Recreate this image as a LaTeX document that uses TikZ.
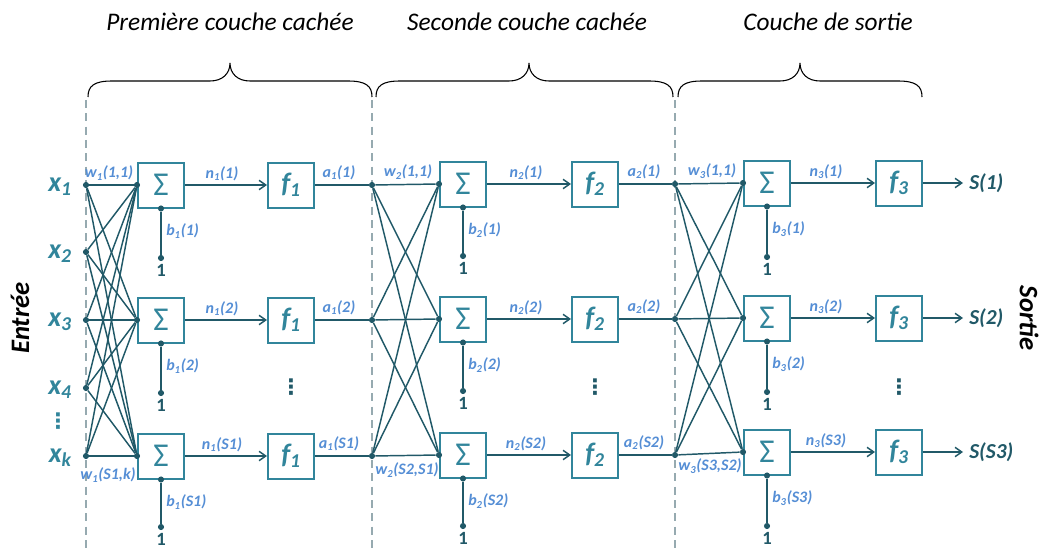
\documentclass[tikz,border=0pt]{standalone}
\usepackage{fontspec}
\setmainfont{Carlito}
\newfontfamily\djv{DejaVu Sans}
\usetikzlibrary{arrows.meta}
\definecolor{lineC}{RGB}{33,89,104}
\definecolor{boxC}{RGB}{49,133,155}
\definecolor{labC}{RGB}{85,142,213}
\definecolor{dashC}{RGB}{150,170,176}
\newcommand\mybrace[3]{%
\draw[bracestyle] (#1,97) .. controls (#1,86) and ({#1+6},81) .. ({#1+24},81) -- ({#2-20},81) .. controls ({#2-8},81) and (#2,74) .. (#2,63) .. controls (#2,74) and ({#2+8},81) .. ({#2+20},81) -- ({#3-24},81) .. controls ({#3-6},81) and (#3,86) .. (#3,97);}
\begin{document}
\begin{tikzpicture}[x=0.75pt,y=-0.75pt,
 conn/.style={draw=lineC,line width=1.1pt},
 dot/.style={circle,fill=lineC,inner sep=0pt,minimum size=4.6pt},
 sumbox/.style={draw=boxC,line width=1.5pt,minimum width=34.5pt,minimum height=33.75pt,inner sep=0pt,text=boxC,font=\fontsize{25}{25}\selectfont},
 funbox/.style={sumbox,font=\fontsize{21}{21}\selectfont\bfseries\itshape},
 wlab/.style={text=labC,font=\fontsize{12}{12}\selectfont\bfseries\itshape,inner sep=0pt},
 xlab/.style={text=boxC,font=\fontsize{21}{21}\selectfont\bfseries\itshape,inner sep=0pt},
 one/.style={text=lineC,font=\fontsize{14}{14}\selectfont\bfseries,inner sep=0pt},
 outlab/.style={text=lineC,font=\fontsize{16}{16}\selectfont\bfseries\itshape,inner sep=0pt},
 title/.style={font=\fontsize{19}{19}\selectfont\itshape,inner sep=0pt},
 side/.style={font=\fontsize{20}{20}\selectfont\bfseries\itshape,inner sep=0pt},
 arr/.style={conn,-{Straight Barb[length=5pt,width=7pt,line width=1.1pt]}},
 dashline/.style={draw=dashC,line width=1pt,dash pattern=on 6pt off 4pt},
 bracestyle/.style={draw=black,line width=0.8pt},
 vd/.style={text=lineC,font=\fontsize{16}{16}\selectfont\djv\bfseries,inner sep=0pt}
]
\useasboundingbox (0,0) rectangle (1041,549);
% dashed separators
\draw[dashline] (86,100) -- (86,549);
\draw[dashline] (372,100) -- (372,549);
\draw[dashline] (675,100) -- (675,549);
% braces and titles
\mybrace{88}{230}{372}
\mybrace{376}{529}{673}
\mybrace{678}{800}{922}
\node[title] (t1) at (230,22) {Première couche cachée};
\node[title] (t2) at (527,22) {Seconde couche cachée};
\node[title] (t3) at (828,22) {Couche de sortie};
\node[side,rotate=90] (entree) at (20,318) {Entrée};
\node[side,rotate=-90] (sortie) at (1029,318) {Sortie};
% inputs
\foreach \i/\y/\t in {1/185/1,2/252/2,3/320/3,4/388/4,5/456/k}{
  \node[dot] (in\i) at (86,\y) {};
  \node[xlab,anchor=base east] (xl\i) at (72,{\y+6}) {x\textsubscript{\t}};
}
\node[vd,text=boxC] (vdin) at (58,421) {⋮};
% layer 1
\foreach \r/\y/\k/\b in {1/185/1/73,2/320/2/73,3/456/S1/71}{
  \node[sumbox] (sA\r) at (161,\y) {Σ};
  \node[funbox] (fA\r) at (291,\y) {f\textsubscript{1}};
  \node[dot] (wA\r) at (sA\r.west) {};
  \node[dot] (cA\r) at (sA\r.south) {};
  \node[dot] (bA\r) at (161,{\y+\b}) {};
  \node[dot] (aA\r) at (372,\y) {};
  \draw[conn] (cA\r) -- (bA\r);
  \node[one,anchor=north] (oA\r) at ([yshift=-2pt]bA\r.south) {1};
  \draw[arr] (sA\r) -- (fA\r);
  \draw[conn] (fA\r) -- (aA\r);
  \node[wlab,anchor=south] (nlA\r) at (222,{\y-4}) {n\textsubscript{1}(\k)};
  \node[wlab,anchor=south] (alA\r) at (339,{\y-5}) {a\textsubscript{1}(\k)};
  \node[wlab,anchor=west] (blA\r) at (166,{\y+46}) {b\textsubscript{1}(\k)};
}
% layer 2
\foreach \r/\y/\k/\b in {1/184/1/72,2/319/2/72,3/455/S2/71}{
  \node[sumbox] (sB\r) at (463,\y) {Σ};
  \node[funbox] (fB\r) at (595,\y) {f\textsubscript{2}};
  \node[dot] (wB\r) at (sB\r.west) {};
  \node[dot] (cB\r) at (sB\r.south) {};
  \node[dot] (bB\r) at (463,{\y+\b}) {};
  \node[dot] (aB\r) at (675,\y) {};
  \draw[conn] (cB\r) -- (bB\r);
  \node[one,anchor=north] (oB\r) at ([yshift=-2pt]bB\r.south) {1};
  \draw[arr] (sB\r) -- (fB\r);
  \draw[conn] (fB\r) -- (aB\r);
  \node[wlab,anchor=south] (nlB\r) at (526,{\y-4}) {n\textsubscript{2}(\k)};
  \node[wlab,anchor=south] (alB\r) at (644,{\y-5}) {a\textsubscript{2}(\k)};
  \node[wlab,anchor=west] (blB\r) at (468,{\y+46}) {b\textsubscript{2}(\k)};
}
% layer 3
\foreach \r/\y/\k/\s/\b in {1/183/1/1/74,2/318/2/2/74,3/452/S3/S3/74}{
  \node[sumbox] (sC\r) at (767,\y) {Σ};
  \node[funbox] (fC\r) at (899,\y) {f\textsubscript{3}};
  \node[dot] (wC\r) at (sC\r.west) {};
  \node[dot] (cC\r) at (sC\r.south) {};
  \node[dot] (bC\r) at (767,{\y+\b}) {};
  \coordinate (oc\r) at (963,\y);
  \draw[conn] (cC\r) -- (bC\r);
  \node[one,anchor=north] (oC\r) at ([yshift=-2pt]bC\r.south) {1};
  \draw[arr] (sC\r) -- (fC\r);
  \draw[arr] (fC\r) -- (oc\r);
  \node[outlab,anchor=west] (S\r) at (969,\y) {S(\s)};
  \node[wlab,anchor=south] (nlC\r) at (826,{\y-4}) {n\textsubscript{3}(\k)};
  \node[wlab,anchor=west] (blC\r) at (772,{\y+46}) {b\textsubscript{3}(\k)};
}
% weight connections
\foreach \i in {1,...,5}{\foreach \j in {1,2,3}{\draw[conn] (in\i) -- (wA\j);}}
\foreach \i in {1,2,3}{\foreach \j in {1,2,3}{\draw[conn] (aA\i) -- (wB\j);}}
\foreach \i in {1,2,3}{\foreach \j in {1,2,3}{\draw[conn] (aB\i) -- (wC\j);}}
% weight labels
\node[wlab] (w11) at (109,173) {w\textsubscript{1}(1,1)};
\node[wlab] (w1k) at (108,475) {w\textsubscript{1}(S1,k)};
\node[wlab] (w21) at (408,172) {w\textsubscript{2}(1,1)};
\node[wlab] (w2s) at (407,470) {w\textsubscript{2}(S2,S1)};
\node[wlab] (w31) at (712,171) {w\textsubscript{3}(1,1)};
\node[wlab] (w3s) at (710,466) {w\textsubscript{3}(S3,S2)};
% vertical dots
\node[vd] (vd1) at (291,387) {⋮};
\node[vd] (vd2) at (595,387) {⋮};
\node[vd] (vd3) at (899,387) {⋮};
\end{tikzpicture}
\end{document}
